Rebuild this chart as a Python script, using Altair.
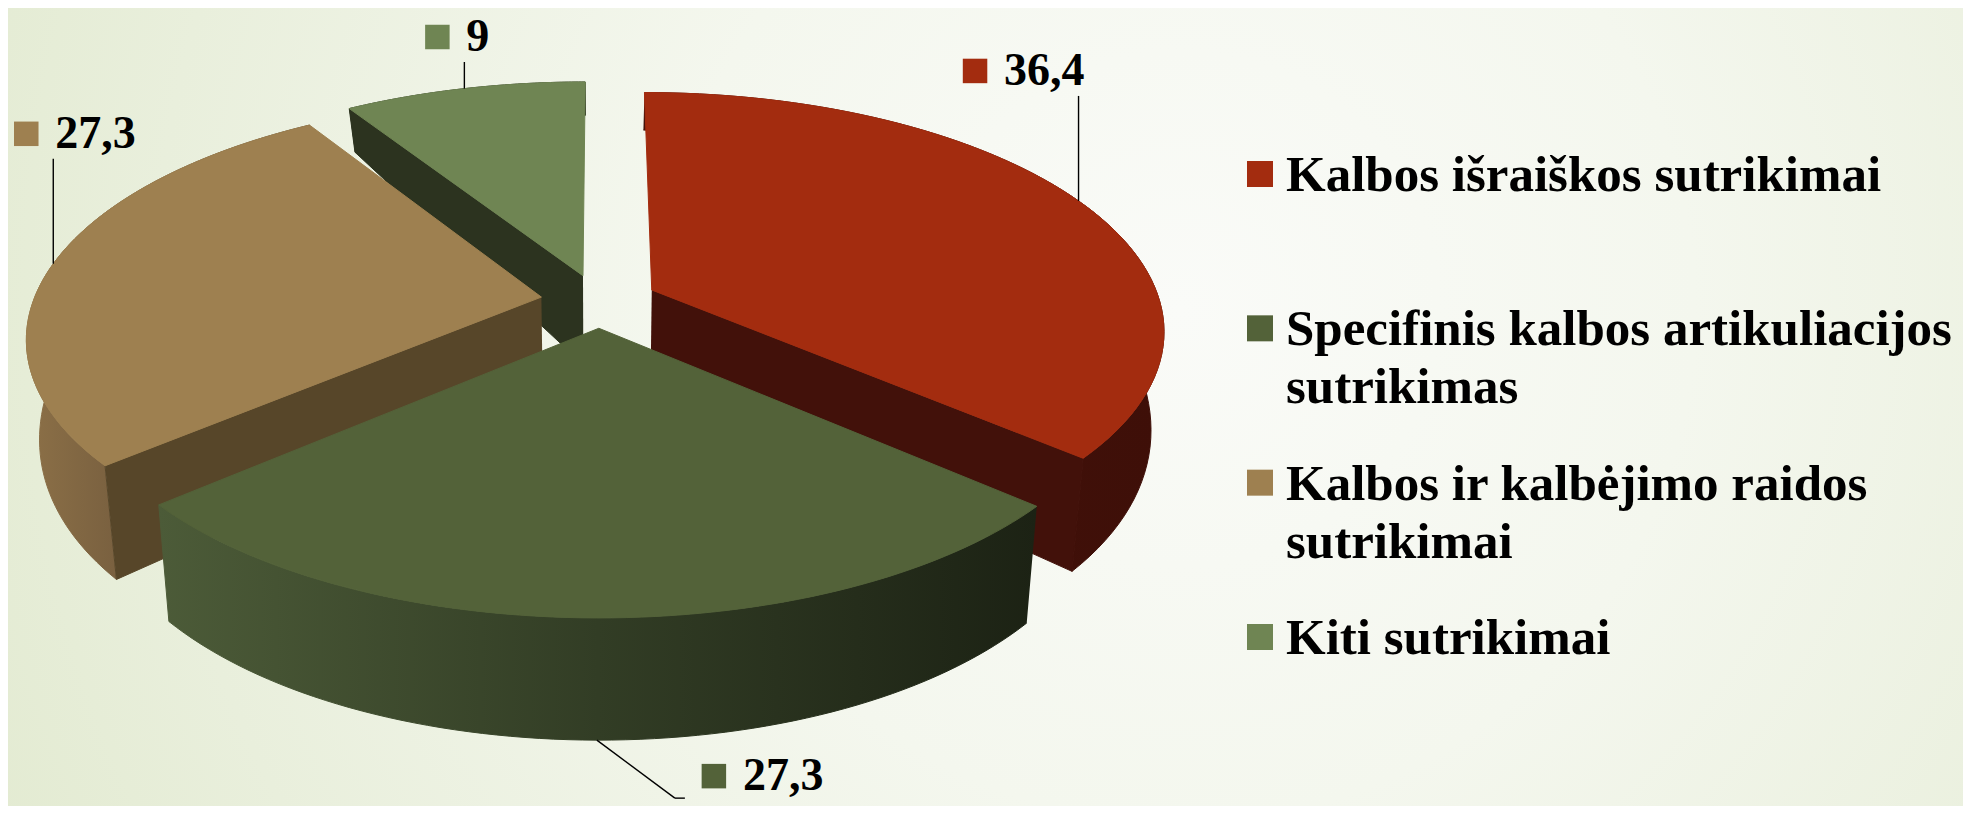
import math
import altair as alt
import pandas as pd

# ---------------- data ----------------
categories = [
    "Kalbos išraiškos sutrikimai",
    "Specifinis kalbos artikuliacijos sutrikimas",
    "Kalbos ir kalbėjimo raidos sutrikimai",
    "Kiti sutrikimai",
]
values = [36.4, 27.3, 27.3, 9.0]
legend_text = [
    "Kalbos išraiškos sutrikimai",
    "Specifinis kalbos artikuliacijos\nsutrikimas",
    "Kalbos ir kalbėjimo raidos\nsutrikimai",
    "Kiti sutrikimai",
]

# ---------------- styles ----------------
top_colors = ["#A32C0F", "#536239", "#9E8050", "#6F8553"]
cut_colors = ["#42110A", "#2B341F", "#574629", "#2C331F"]
wall_stops = [
    [("#45120A", 0.0), ("#3E0F08", 1.0)],
    [("#4C5B38", 0.0), ("#323D25", 0.5), ("#1C2214", 1.0)],
    [("#8C7047", 0.0), ("#7A6140", 0.3), ("#5A482C", 1.0)],
    [("#2C331F", 0.0), ("#2C331F", 1.0)],
]
FONT = "Liberation Serif"

# ---------------- layout / 3D projection parameters ----------------
W, H = 1955, 798
X0, Y0 = 599, 301        # projected pie centre
A, B = 508, 232.8        # horizontal / vertical radii
P = 0.1623               # perspective strength
E = 0.115                # explode distance (fraction of radius)
KB = 0.977               # bottom shrink towards centre
D0, D1, D2 = 93.4, 40.0, -12.7   # side depth as function of depth coordinate
N = 72                   # arc resolution
FS = 46                  # data label font size

df = pd.DataFrame({"category": categories, "value": values, "idx": list(range(len(categories)))})
leg_df = pd.DataFrame({"category": categories, "text": legend_text})

XS = alt.Scale(domain=[8, 8 + W], nice=False, zero=False)
YS = alt.Scale(domain=[8, 8 + H], nice=False, zero=False, reverse=True)
X = alt.X("px:Q", scale=XS, axis=None)
Y = alt.Y("py:Q", scale=YS, axis=None)


def base():
    return (
        alt.Chart(df)
        .transform_joinaggregate(total="sum(value)")
        .transform_window(cum="sum(value)", sort=[alt.SortField("idx", order="ascending")], frame=[None, 0])
        .transform_calculate(a0="2*PI*(datum.cum-datum.value)/datum.total",
                             a1="2*PI*datum.cum/datum.total")
        .transform_calculate(am="(datum.a0+datum.a1)/2")
        .transform_calculate(eu=f"{E}*sin(datum.am)", ev=f"-{E}*cos(datum.am)")
    )


def proj(ch):
    return (
        ch.transform_calculate(u="datum.eu + datum.r*sin(datum.th)",
                               v="datum.ev - datum.r*cos(datum.th)")
        .transform_calculate(f=f"1/(1-{P}*datum.v)")
        .transform_calculate(xt=f"{X0}+{A}*datum.u*datum.f",
                             yt=f"{Y0}+{B}*datum.v*datum.f",
                             dz=f"{D0}+{D1}*datum.v+{D2}*datum.v*datum.v")
        .transform_calculate(px=f"{X0}+(datum.xt-{X0})*(1-{1 - KB:.4f}*datum.z)",
                             py="datum.yt+datum.z*datum.dz")
    )


def grad(stops):
    return alt.LinearGradient(
        gradient="linear",
        stops=[alt.GradientStop(color=c, offset=o) for c, o in stops],
        x1=0, x2=1, y1=0, y2=0,
    )


# painter's order: back slices first
total = sum(values)
cum = 0
depth = []
for i, v in enumerate(values):
    mid = 2 * math.pi * (cum + v / 2) / total
    depth.append((-math.cos(mid), i))
    cum += v
order = [i for _, i in sorted(depth)]

slice_layers = []
for i in order:
    g = grad(wall_stops[i])
    wall = proj(
        base().transform_filter(alt.datum.idx == i)
        .transform_calculate(k=f"sequence(0,{2 * N + 2})").transform_flatten(["k"])
        .transform_calculate(j=f"datum.k<={N} ? datum.k : {2 * N + 1}-datum.k",
                             z=f"datum.k<={N} ? 0 : 1", r="1")
        .transform_calculate(th=f"datum.a0+(datum.a1-datum.a0)*datum.j/{N}")
    ).mark_line(fill=g, stroke=g, strokeWidth=1, strokeJoin="round").encode(x=X, y=Y, order="k:Q")

    cut = proj(
        base().transform_filter(alt.datum.idx == i)
        .transform_calculate(face="[0,1]").transform_flatten(["face"])
        .transform_filter("datum.face==0 ? sin(datum.a0) < -0.000001 : sin(datum.a1) > 0.000001")
        .transform_calculate(k="[0,1,2,3]").transform_flatten(["k"])
        .transform_calculate(r="(datum.k==1||datum.k==2) ? 1 : 0",
                             z="datum.k>=2 ? 1 : 0",
                             th="datum.face==0 ? datum.a0 : datum.a1")
    ).mark_line(fill=cut_colors[i], stroke=cut_colors[i], strokeWidth=1, strokeJoin="round").encode(
        x=X, y=Y, order="k:Q", detail="face:N")

    top = proj(
        base().transform_filter(alt.datum.idx == i)
        .transform_calculate(k=f"sequence(0,{N + 3})").transform_flatten(["k"])
        .transform_calculate(r=f"(datum.k==0 || datum.k=={N + 2}) ? 0 : 1", z="0",
                             th=f"datum.a0+(datum.a1-datum.a0)*clamp(datum.k-1,0,{N})/{N}")
    ).mark_line(fill=top_colors[i], stroke=top_colors[i], strokeWidth=1, strokeJoin="round").encode(
        x=X, y=Y, order="k:Q")
    slice_layers += [wall, cut, top]

# ---------------- data labels ----------------
lab = proj(
    base().transform_calculate(front="datum.ev > 0 ? 1 : 0")
    .transform_calculate(r="1", th="datum.am", z="datum.front")
).transform_calculate(
    ax="datum.px", ay="datum.py",
    bx="datum.front ? datum.px + 78 : datum.px",
    by="datum.front ? datum.py + 58 : datum.py - min(105, datum.py - 62)",
    label="replace(toString(datum.value), '.', ',')",
).transform_calculate(
    tw=f"{FS}*(0.5*length(datum.label) - (indexof(datum.label, ',') >= 0 ? 0.25 : 0))"
).transform_calculate(
    tx=f"datum.front ? datum.bx + 68 : (datum.ax > {X0 + 200} ? datum.bx + 6 - datum.tw : datum.bx + 2)",
    ty="datum.front ? datum.by - 22 : datum.by - 25",
).transform_calculate(sx="datum.tx - 29", bx2="datum.bx + 10")

color_scale = alt.Scale(domain=categories, range=top_colors)

leader = lab.mark_rule(color="black", strokeWidth=1.4).encode(
    x=alt.X("ax:Q", scale=XS, axis=None), y=alt.Y("ay:Q", scale=YS, axis=None),
    x2="bx:Q", y2="by:Q")
tick = lab.transform_filter("datum.front == 1").mark_rule(color="black", strokeWidth=1.4).encode(
    x=alt.X("bx:Q", scale=XS, axis=None), y=alt.Y("by:Q", scale=YS, axis=None),
    x2="bx2:Q")
lab_sq = lab.mark_square(size=600, opacity=1).encode(
    x=alt.X("sx:Q", scale=XS, axis=None), y=alt.Y("ty:Q", scale=YS, axis=None),
    color=alt.Color("category:N", scale=color_scale, legend=None))
lab_tx = lab.mark_text(align="left", baseline="middle", font=FONT, fontWeight="bold",
                       fontSize=FS, color="black").encode(
    x=alt.X("tx:Q", scale=XS, axis=None), y=alt.Y("ty:Q", scale=YS, axis=None),
    text="label:N")

pie = alt.layer(*slice_layers, leader, tick, lab_sq, lab_tx)

# ---------------- legend ----------------
leg_y = alt.Y("category:N", scale=alt.Scale(type="point", domain=categories, range=[166, 629], padding=0),
              axis=None)
leg_sq = alt.Chart(leg_df).mark_square(size=676, opacity=1).encode(
    x=alt.value(1252), y=leg_y,
    color=alt.Color("category:N", scale=color_scale, legend=None))
leg_tx = alt.Chart(leg_df).mark_text(align="left", baseline="alphabetic", dy=17, font=FONT,
                                     fontWeight="bold", fontSize=51, lineHeight=58, lineBreak="\n",
                                     color="black").encode(
    x=alt.value(1278), y=leg_y, text="text:N")
legend = alt.layer(leg_sq, leg_tx)

# ---------------- background ----------------
bg = alt.Chart(alt.Data(values=[{}])).mark_rect(
    fill=alt.RadialGradient(
        gradient="radial",
        stops=[alt.GradientStop(color="#FAFBF8", offset=0.0),
               alt.GradientStop(color="#F4F7EE", offset=0.35),
               alt.GradientStop(color="#E9EFDC", offset=0.7),
               alt.GradientStop(color="#DFE8CB", offset=1.0)],
        x1=0.6, y1=0.45, r1=0, x2=0.6, y2=0.45, r2=0.75),
).encode(x=alt.value(0), x2=alt.value(W), y=alt.value(0), y2=alt.value(H))

chart = (
    alt.layer(bg, pie, legend)
    .resolve_scale(x="independent", y="independent", color="independent")
    .properties(width=W, height=H, padding=0, background="#EEF2E4",
                autosize=alt.AutoSizeParams(type="none"))
    .configure_view(strokeWidth=0)
)

chart.save("out.html", embed_options={"renderer": "svg", "actions": False})
